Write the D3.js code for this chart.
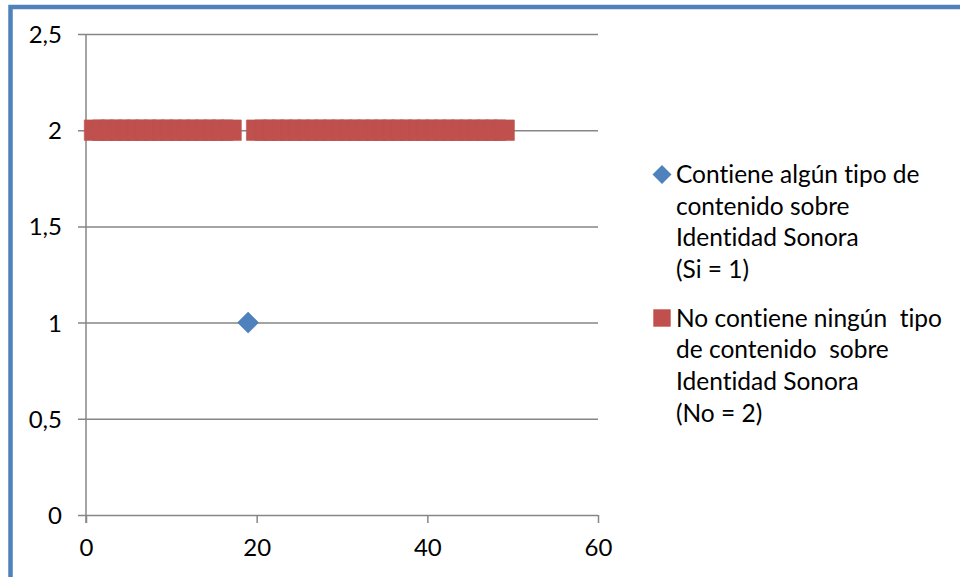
<!DOCTYPE html>
<html><head><meta charset="utf-8">
<script src="https://cdn.jsdelivr.net/npm/d3@7"></script>
<style>
html,body{margin:0;padding:0;background:#fff;}
svg{display:block;}
text{font-family:Lato,"Open Sans",sans-serif;fill:#000;font-variant-ligatures:none;font-feature-settings:"liga" 0;}
</style></head>
<body>
<svg id="chart" width="960" height="577"></svg>
<script>
// ---- data ----
const xTicks = [0, 20, 40, 60];
const yTicks = [0, 0.5, 1, 1.5, 2, 2.5];
const siX = [19];
const siY = [1];
const noX = [1,2,3,4,5,6,7,8,9,10,11,12,13,14,15,16,17,20,21,22,23,24,25,26,27,28,29,30,31,32,33,34,35,36,37,38,39,40,41,42,43,44,45,46,47,48,49];
const noY = [2,2,2,2,2,2,2,2,2,2,2,2,2,2,2,2,2,2,2,2,2,2,2,2,2,2,2,2,2,2,2,2,2,2,2,2,2,2,2,2,2,2,2,2,2,2,2];
const legendSi = ["Contiene algún tipo de", "contenido sobre", "Identidad Sonora", "(Si = 1)"];
const legendNo = ["No contiene ningún  tipo", "de contenido  sobre", "Identidad Sonora", "(No = 2)"];

const svg = d3.select("#chart");
const blue = "#4F81BD", red = "#C0504D", grid = "#868686";
const fs = 24;
const lfs = 24.5;

// frame
svg.append("rect").attr("x", 10.5).attr("y", 7).attr("width", 1000).attr("height", 700)
  .attr("fill", "none").attr("stroke", blue).attr("stroke-width", 4.5);

const x = d3.scaleLinear().domain([0, 60]).range([86, 598]);
const y = d3.scaleLinear().domain([0, 2.5]).range([515, 34]);
const fmt = d => String(d).replace(".", ",");

// horizontal gridlines + y ticks
const yAxis = d3.axisLeft(y).tickValues(yTicks).tickFormat(fmt).tickSize(0).tickPadding(24);
const gy = svg.append("g").attr("transform", `translate(${x(0)},0)`).call(yAxis);
gy.select(".domain").remove();
gy.selectAll(".tick line").remove();
gy.selectAll(".tick").append("line")
  .attr("x1", -8).attr("x2", x(60) - x(0))
  .attr("stroke", grid).attr("stroke-width", 1.5);
gy.selectAll(".tick text").attr("font-size", fs).attr("fill", "#000").attr("dy", "0.35em");

// y axis line
svg.append("line").attr("x1", x(0)).attr("x2", x(0)).attr("y1", y(2.5)).attr("y2", y(0) + 8)
  .attr("stroke", grid).attr("stroke-width", 1.5);

// x axis
const xAxis = d3.axisBottom(x).tickValues(xTicks).tickSize(8).tickPadding(16).tickFormat(d3.format("d"));
const gx = svg.append("g").attr("transform", `translate(0,${y(0)})`).call(xAxis);
gx.select(".domain").remove();
gx.selectAll(".tick line").attr("stroke", grid).attr("stroke-width", 1.5);
gx.selectAll(".tick text").attr("font-size", fs).attr("fill", "#000");

// series
const noData = noX.map((v, i) => ({x: v, y: noY[i]}));
const siData = siX.map((v, i) => ({x: v, y: siY[i]}));

svg.append("g").selectAll("path").data(noData).join("path")
  .attr("d", d3.symbol(d3.symbolSquare, 420))
  .attr("transform", d => `translate(${x(d.x)},${y(d.y)})`)
  .attr("fill", red).attr("stroke", "#B9504D").attr("stroke-width", 0.6);

svg.append("g").selectAll("path").data(siData).join("path")
  .attr("d", d3.symbol(d3.symbolSquare, 220))
  .attr("transform", d => `translate(${x(d.x)},${y(d.y)}) rotate(45)`)
  .attr("fill", blue).attr("stroke", "#4A7EBB").attr("stroke-width", 0.6);

// legend
const lg = svg.append("g");
const lineH = 31.7;
lg.append("path").attr("d", d3.symbol(d3.symbolSquare, 180))
  .attr("transform", "translate(662,174.5) rotate(45)").attr("fill", blue);
lg.append("text").attr("x", 676).attr("y", 173).attr("font-size", lfs).attr("dominant-baseline", "central")
  .style("white-space", "pre")
  .selectAll("tspan").data(legendSi).join("tspan")
  .attr("x", 676).attr("dy", (d, i) => i ? lineH : 0).text(d => d);
lg.append("path").attr("d", d3.symbol(d3.symbolSquare, 303))
  .attr("transform", "translate(662,318)").attr("fill", red);
lg.append("text").attr("x", 676).attr("y", 316.5).attr("font-size", lfs).attr("dominant-baseline", "central")
  .style("white-space", "pre")
  .selectAll("tspan").data(legendNo).join("tspan")
  .attr("x", 676).attr("dy", (d, i) => i ? lineH : 0).text(d => d);
</script>
</body></html>
